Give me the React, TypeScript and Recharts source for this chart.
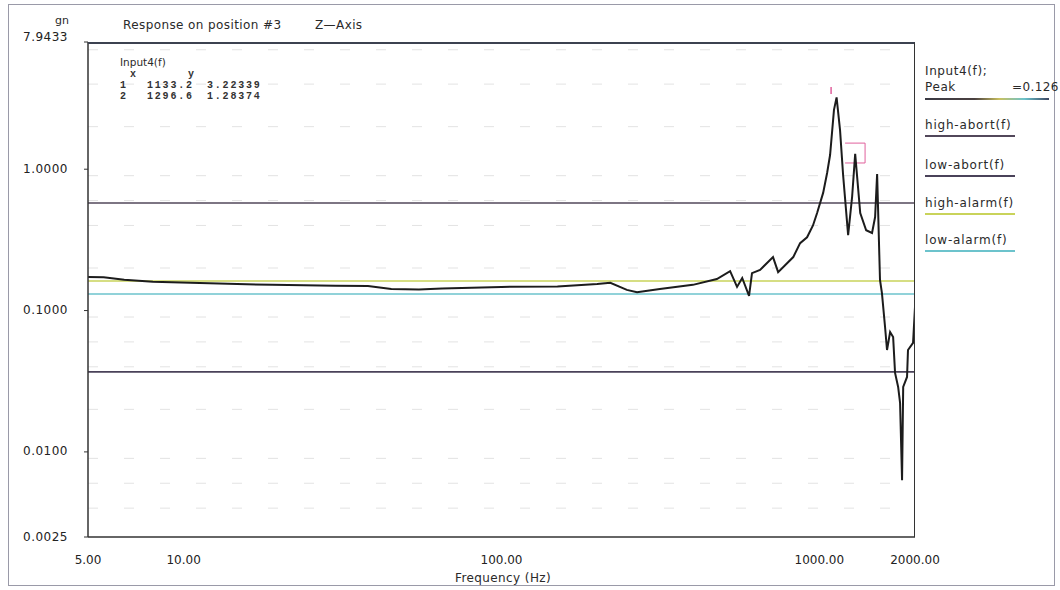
import React from 'react';
import { LineChart, Line, XAxis, YAxis, CartesianGrid, ReferenceLine } from 'recharts';

const freqHz = [
  5.0, 5.6, 6.5, 8.0, 10.5, 19, 30, 38, 45, 55, 65, 100, 150, 200, 220, 248, 267, 315, 400, 476,
  524, 551, 572, 601, 614, 651, 715, 742, 828, 870, 915, 955, 984, 1028, 1058, 1081, 1112, 1133.2,
  1162, 1188, 1232, 1268, 1296.6, 1345, 1404, 1465, 1498, 1520, 1530, 1552, 1574, 1610, 1633, 1670,
  1707, 1731, 1770, 1795, 1821, 1836, 1888, 1901, 1972, 2000,
];
const responseGn = [
  0.173, 0.172, 0.165, 0.16, 0.157, 0.152, 0.15, 0.149, 0.142, 0.141, 0.143, 0.147, 0.148, 0.154,
  0.157, 0.14, 0.135, 0.142, 0.152, 0.167, 0.19, 0.147, 0.17, 0.127, 0.184, 0.194, 0.239, 0.187,
  0.239, 0.3, 0.33, 0.4, 0.49, 0.68, 0.94, 1.26, 2.63, 3.22339, 1.89, 0.91, 0.342, 0.636, 1.28374,
  0.49, 0.37, 0.354, 0.459, 0.925, 0.54, 0.165, 0.133, 0.0765, 0.0526, 0.0705, 0.065, 0.0362,
  0.0288, 0.0222, 0.0063, 0.0288, 0.0339, 0.0526, 0.059, 0.106,
];

const xTicks = [5, 10, 100, 1000, 2000];
const yTicks = [0.0025, 0.01, 0.1, 1, 7.9433];
const yDomain = [0.0025, 7.9433];

// limit lines
const limitNames = ['high-abort(f)', 'low-abort(f)', 'high-alarm(f)', 'low-alarm(f)'];
const limitValues = [0.577, 0.0368, 0.162, 0.131];
const limitColors = ['#52475a', '#4a4259', '#c9d35a', '#6cc3cc'];

// cursor readout table
const cursorIds = ['1', '2'];
const cursorX = ['1133.2', '1296.6'];
const cursorY = ['3.22339', '1.28374'];

// pink cursor marks (Hz / gn)
const peakMarkF = 1089;
const peakMarkGn = [3.4, 3.82];
const boxF = [1205, 1393];
const boxGn = [1.53, 1.107];

// faint log minor grid
const gridValues: number[] = [];
[0.001, 0.01, 0.1, 1].forEach((d) => {
  [2, 3, 4, 5, 6, 7, 8, 9].forEach((m) => {
    const v = d * m;
    if (v > yDomain[0] && v < yDomain[1]) gridValues.push(v);
  });
});

const font = '"DejaVu Sans", Verdana, sans-serif';
const pink = '#e0609c';

function YTick(props: any) {
  const { x, y, payload } = props;
  const top = payload.value > 5;
  return (
    <text x={x} y={top ? y - 5 : y} textAnchor="end" dominantBaseline="middle" fontSize={12} fill="#222" letterSpacing={0.5}>
      {payload.value.toFixed(4)}
    </text>
  );
}

function Txt({ x, y, children, style }: { x: number; y: number; children: React.ReactNode; style?: React.CSSProperties }) {
  return (
    <div style={{ position: 'absolute', left: x, top: y - 7, lineHeight: '14px', fontSize: 12, whiteSpace: 'nowrap', ...style }}>
      {children}
    </div>
  );
}

function Rule({ x, y, w, bg }: { x: number; y: number; w: number; bg: string }) {
  return <div style={{ position: 'absolute', left: x, top: y, width: w, height: 2, background: bg }} />;
}

const mono: React.CSSProperties = {
  position: 'absolute',
  fontFamily: '"Liberation Mono", monospace',
  fontSize: 10,
  lineHeight: '11px',
  letterSpacing: 1.8,
  fontWeight: 'bold',
  color: '#333',
  whiteSpace: 'nowrap',
};

export default function App() {
  const data = freqHz.map((f, i) => ({ f, gn: responseGn[i] }));
  const legendY = [125, 165, 203, 240];

  return (
    <div style={{ position: 'absolute', left: 0, top: 0, width: 1060, height: 590, background: '#fff', fontFamily: font, color: '#2a2a2a' }}>
      <div style={{ position: 'absolute', left: 8, top: 4, width: 1045, height: 580, border: '1px solid #9a9aa8' }} />

      <LineChart width={1060} height={590} data={data} margin={{ top: 42, right: 145, bottom: 0, left: 0 }}>
        <CartesianGrid vertical={false} horizontalValues={gridValues} stroke="#e3e3e3" strokeDasharray="10 26" />
        <XAxis
          dataKey="f"
          type="number"
          scale="log"
          domain={[5, 2000]}
          ticks={xTicks}
          allowDataOverflow
          height={53}
          tickLine={false}
          axisLine={{ stroke: '#333', strokeWidth: 1.5 }}
          tickMargin={12}
          tick={{ fontSize: 12, fill: '#222' }}
          tickFormatter={(v: number) => v.toFixed(2)}
        />
        <YAxis
          type="number"
          scale="log"
          domain={yDomain}
          ticks={yTicks}
          allowDataOverflow
          width={88}
          tickSize={4}
          tickMargin={16}
          tick={<YTick />}
          tickLine={{ stroke: '#333' }}
          axisLine={{ stroke: '#333', strokeWidth: 1.5 }}
        />
        {limitValues.map((v, i) => (
          <ReferenceLine key={limitNames[i]} y={v} stroke={limitColors[i]} strokeWidth={1.6} ifOverflow="hidden" />
        ))}
        <ReferenceLine segment={[{ x: peakMarkF, y: peakMarkGn[0] }, { x: peakMarkF, y: peakMarkGn[1] }]} stroke={pink} strokeWidth={1.5} />
        <ReferenceLine segment={[{ x: boxF[0], y: boxGn[0] }, { x: boxF[1], y: boxGn[0] }]} stroke={pink} strokeWidth={1} />
        <ReferenceLine segment={[{ x: boxF[0], y: boxGn[1] }, { x: boxF[1], y: boxGn[1] }]} stroke={pink} strokeWidth={1} />
        <ReferenceLine segment={[{ x: boxF[1], y: boxGn[0] }, { x: boxF[1], y: boxGn[1] }]} stroke={pink} strokeWidth={1} />
        <Line type="linear" dataKey="gn" stroke="#1c1c1c" strokeWidth={2} dot={false} isAnimationActive={false} />
      </LineChart>

      {/* plot frame */}
      <div style={{ position: 'absolute', left: 88, top: 42, width: 827, height: 495, borderTop: '2px solid #3c4250', borderRight: '1.5px solid #333', boxSizing: 'border-box', pointerEvents: 'none' }} />

      {/* titles */}
      <Txt x={55} y={21} style={{ fontSize: 11 }}>gn</Txt>
      <Txt x={123} y={25} style={{ letterSpacing: 0.4 }}>Response on position #3</Txt>
      <Txt x={315} y={25} style={{ letterSpacing: 0.4 }}>Z—Axis</Txt>
      <Txt x={455} y={578} style={{ letterSpacing: 0.4 }}>Frequency (Hz)</Txt>

      {/* cursor table */}
      <Txt x={120} y={62} style={{ fontSize: 10.5 }}>Input4(f)</Txt>
      <span style={{ ...mono, left: 130, top: 69 }}>x</span>
      <span style={{ ...mono, left: 188, top: 69 }}>y</span>
      {cursorIds.map((id, i) => (
        <React.Fragment key={id}>
          <span style={{ ...mono, left: 120, top: 80 + i * 11 }}>{id}</span>
          <span style={{ ...mono, left: 147, top: 80 + i * 11 }}>{cursorX[i]}</span>
          <span style={{ ...mono, left: 207, top: 80 + i * 11 }}>{cursorY[i]}</span>
        </React.Fragment>
      ))}

      {/* legend */}
      <Txt x={925} y={71} style={{ letterSpacing: 0.6 }}>Input4(f);</Txt>
      <Txt x={925} y={87} style={{ letterSpacing: 0.6 }}>Peak</Txt>
      <Txt x={1012} y={87} style={{ letterSpacing: 0.4 }}>=0.126</Txt>
      <Rule x={925} y={98} w={124} bg="linear-gradient(90deg,#3a3a44,#4a4040 40%,#c9c060 60%,#6cc3cc 80%,#3a4460)" />
      {limitNames.map((name, i) => (
        <React.Fragment key={name}>
          <Txt x={925} y={legendY[i]} style={{ letterSpacing: 0.8 }}>{name}</Txt>
          <Rule x={925} y={legendY[i] + 10} w={90} bg={limitColors[i]} />
        </React.Fragment>
      ))}
    </div>
  );
}
